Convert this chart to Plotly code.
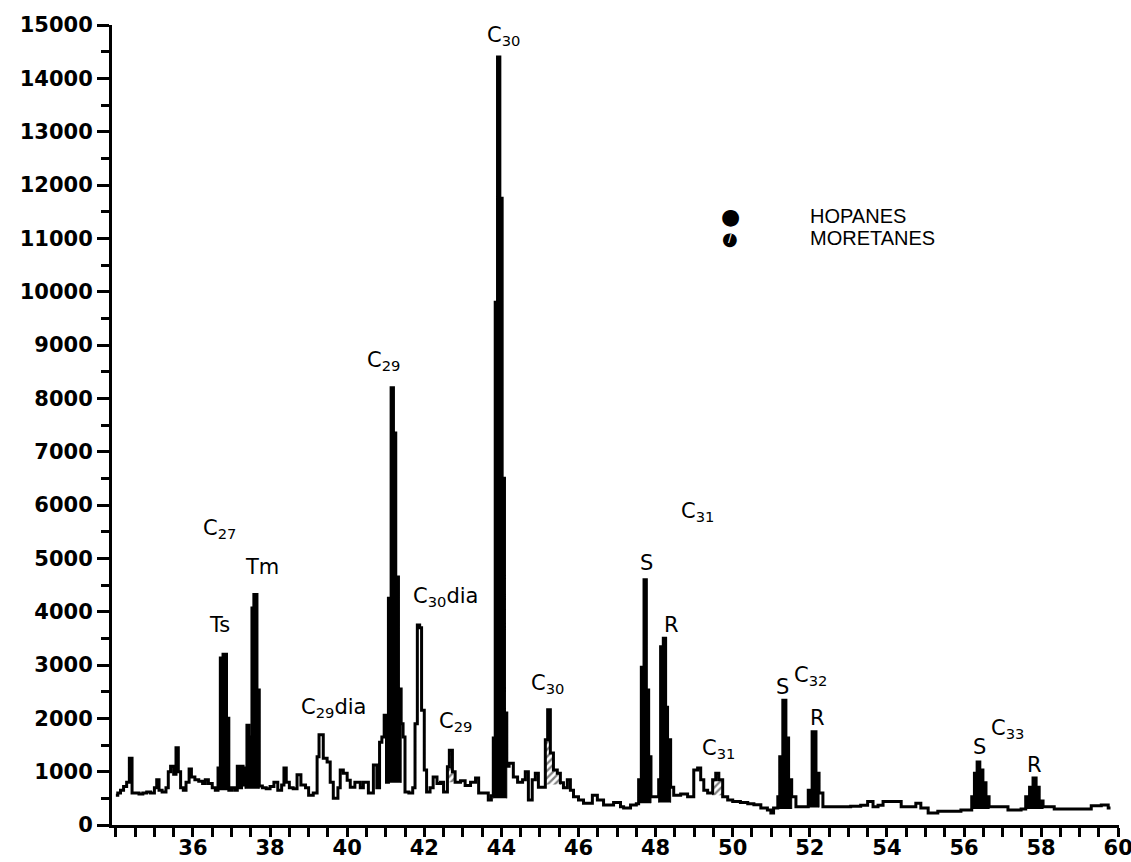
import plotly.graph_objects as go

# ---- chromatogram (retention time, min ; abundance) ----
times = [34.0, 34.05, 34.12, 34.2, 34.28, 34.35, 34.42, 34.5, 34.6, 34.7, 34.8, 34.9,
         35.0, 35.06, 35.12, 35.2, 35.3, 35.36, 35.42, 35.5, 35.56, 35.62, 35.68, 35.75,
         35.82, 35.9, 35.96, 36.05, 36.15, 36.25, 36.32, 36.4, 36.5, 36.58,
         36.65, 36.71, 36.78, 36.87, 36.93, 37.0, 37.08, 37.15, 37.2, 37.26, 37.3,
         37.35, 37.4, 37.45, 37.53, 37.58, 37.66, 37.72,
         37.8, 37.9, 38.0, 38.1, 38.2, 38.3, 38.36, 38.42, 38.5, 38.6, 38.7, 38.8,
         38.92, 39.0, 39.12, 39.22, 39.27, 39.38, 39.48, 39.56, 39.64, 39.76, 39.82,
         39.9, 40.0, 40.08, 40.2, 40.34, 40.42, 40.55, 40.68, 40.77,
         40.84, 40.9, 40.96, 41.02, 41.07, 41.14, 41.2, 41.26, 41.33, 41.4, 41.45,
         41.5, 41.6, 41.7, 41.76, 41.82, 41.88, 41.93, 42.0, 42.06,
         42.15, 42.23, 42.33, 42.42, 42.5, 42.6, 42.65, 42.73, 42.8, 42.94, 43.06,
         43.2, 43.33, 43.41, 43.53, 43.66, 43.74,
         43.79, 43.84, 43.9, 43.96, 44.02, 44.08, 44.14,
         44.2, 44.31, 44.42, 44.55, 44.62, 44.7, 44.8, 44.88, 44.96, 45.06,
         45.14, 45.2, 45.27, 45.35, 45.45, 45.53, 45.61, 45.71, 45.79, 45.87,
         46.0, 46.13, 46.36, 46.49, 46.65, 46.91, 47.09, 47.17, 47.35, 47.5,
         47.56, 47.63, 47.7, 47.76, 47.82, 47.88, 48.0,
         48.08, 48.13, 48.2, 48.26, 48.31, 48.39,
         48.47, 48.65, 48.83, 48.99, 49.09, 49.17, 49.25, 49.35, 49.48, 49.56,
         49.64, 49.74, 49.87, 50.0, 50.2, 50.39, 50.55, 50.73, 50.9, 50.99, 51.06,
         51.17, 51.22, 51.3, 51.38, 51.45, 51.53, 51.64, 51.9,
         51.96, 52.06, 52.16, 52.24, 52.34, 52.73, 53.06, 53.32, 53.5, 53.64,
         53.77, 53.9, 54.29, 54.37, 54.55, 54.75, 54.88, 55.07, 55.32, 55.58,
         55.92, 56.13, 56.2, 56.27, 56.34, 56.41, 56.49, 56.57, 56.65, 56.88,
         57.14, 57.48, 57.6, 57.7, 57.79, 57.87, 57.95, 58.05, 58.34, 59.22,
         59.3, 59.56, 59.74, 59.8]
abundance = [560, 600, 650, 720, 800, 1250, 600, 600, 580, 600, 620, 600,
             700, 850, 650, 620, 700, 1000, 1100, 950, 1450, 1000, 700, 650,
             800, 1050, 900, 850, 820, 780, 850, 780, 700, 650,
             1070, 3130, 3200, 2000, 650, 700, 650, 1100, 700, 1100, 750,
             1070, 1870, 1650, 4070, 4320, 2530, 730,
             700, 680, 720, 800, 650, 750, 1070, 800, 700, 680, 940, 750,
             700, 560, 600, 1280, 1690, 1250, 1180, 800, 500, 700, 1030,
             970, 840, 710, 800, 700, 800, 600, 1125, 700,
             1550, 1650, 2060, 800, 4250, 8200, 7350, 4650, 2550, 1900, 1650,
             620, 600, 700, 1900, 3750, 3700, 2150, 1030, 620,
             700, 900, 780, 800, 620, 1090, 1400, 1000, 800, 830, 740,
             800, 880, 600, 600, 470, 550,
             1630, 9800, 14400, 11750, 6500, 2100, 1100,
             1160, 900, 800, 850, 1000, 470, 850, 970, 710, 710,
             1600, 2160, 1350, 1030, 970, 790, 700, 850, 650, 530,
             470, 410, 560, 470, 375, 420, 340, 320, 375, 400,
             850, 2960, 4600, 2530, 1280, 530, 530,
             850, 3340, 3500, 2210, 1600, 710,
             560, 580, 530, 1030, 1070, 850, 650, 600, 850, 970,
             850, 530, 470, 440, 420, 400, 380, 320, 280, 225, 320,
             530, 1280, 2340, 1630, 850, 530, 340, 340,
             650, 1750, 970, 600, 340, 340, 350, 370, 440, 340,
             370, 440, 440, 340, 340, 410, 320, 225, 260, 260,
             280, 280, 530, 970, 1180, 1030, 790, 530, 340, 340,
             280, 300, 530, 710, 880, 710, 450, 340, 300, 300,
             360, 375, 320, 320]

# hopane peaks (solid) and moretane peaks (hatched): window start, end, base level
hopane_start = [36.65, 37.35, 41.07, 43.79, 47.56, 48.08, 51.17, 51.96, 56.2, 57.6]
hopane_end = [36.87, 37.66, 41.33, 44.08, 47.82, 48.31, 51.45, 52.16, 56.57, 57.95]
hopane_base = [650, 680, 790, 500, 410, 420, 300, 330, 300, 300]
moretane_start = [42.6, 45.14, 49.48]
moretane_end = [42.73, 45.45, 49.64]
moretane_base = [800, 760, 560]

x_ticks = [36, 38, 40, 42, 44, 46, 48, 50, 52, 54, 56, 58, 60]
y_ticks = [0, 1000, 2000, 3000, 4000, 5000, 6000, 7000, 8000, 9000, 10000,
           11000, 12000, 13000, 14000, 15000]


def step_polygon(a, b, base):
    idx = [i for i, t in enumerate(times) if a - 1e-9 <= t <= b + 1e-9]
    xs, ys = [times[idx[0]]], [base]
    for i in idx:
        nxt = times[i + 1] if i + 1 < len(times) else times[i]
        xs += [times[i], nxt]
        ys += [abundance[i], abundance[i]]
    xs.append(xs[-1])
    ys.append(base)
    return xs, ys


fig = go.Figure()

for a, b, base in zip(hopane_start, hopane_end, hopane_base):
    xs, ys = step_polygon(a, b, base)
    fig.add_trace(go.Scatter(x=xs, y=ys, fill="toself", fillcolor="black",
                             line=dict(color="black", width=1), mode="lines",
                             hoverinfo="skip", showlegend=False))

for a, b, base in zip(moretane_start, moretane_end, moretane_base):
    xs, ys = step_polygon(a, b, base)
    fig.add_trace(go.Scatter(x=xs, y=ys, fill="toself", fillcolor="white",
                             fillpattern=dict(shape="/", fgcolor="black", bgcolor="white",
                                              size=5, solidity=0.45),
                             line=dict(color="black", width=1), mode="lines",
                             hoverinfo="skip", showlegend=False))

fig.add_trace(go.Scatter(x=times, y=abundance, mode="lines", line_shape="hv",
                         line=dict(color="black", width=3), showlegend=False))

hand = dict(family="DejaVu Sans", size=21, color="black")
labels = [
    ("C<sub>27</sub>", 36.68, 5550), ("Tm", 37.8, 4830), ("Ts", 36.68, 3750),
    ("C<sub>29</sub>", 40.94, 8700), ("C<sub>29</sub>dia", 39.64, 2200),
    ("C<sub>30</sub>dia", 42.55, 4280), ("C<sub>29</sub>", 42.8, 1930),
    ("C<sub>30</sub>", 44.05, 14800), ("C<sub>30</sub>", 45.2, 2650),
    ("C<sub>31</sub>", 49.09, 5870), ("S", 47.77, 4920), ("R", 48.4, 3750),
    ("C<sub>31</sub>", 49.64, 1420),
    ("C<sub>32</sub>", 52.03, 2800), ("S", 51.3, 2590), ("R", 52.2, 2000),
    ("C<sub>33</sub>", 57.14, 1800), ("S", 56.39, 1460), ("R", 57.82, 1120),
]
annotations = [dict(x=x, y=y, xref="x", yref="y", text=t, showarrow=False,
                    font=hand) for t, x, y in labels]

# legend (pixel positions converted to paper coordinates below)
leg_font = dict(family="Liberation Sans", size=20, color="black")
legend_items = [
    dict(x=730, y=216, text="●", xanchor="center",
         font=dict(family="DejaVu Sans", size=22, color="black")),
    dict(x=730, y=238, text="●", xanchor="center",
         font=dict(family="DejaVu Sans", size=18, color="black")),
    dict(x=730, y=238, text="<b>/</b>", xanchor="center",
         font=dict(family="DejaVu Sans", size=10, color="white")),
    dict(x=808, y=216, text="HOPANES", xanchor="left", font=leg_font),
    dict(x=808, y=238, text="MORETANES", xanchor="left", font=leg_font),
]
W, H = 1131, 862
L, R, T, B = 112, 12, 25, 37
x_range = [33.9, 60.02]
for an in legend_items:
    an["xref"], an["yref"] = "paper", "paper"
    an["yanchor"] = "middle"
    an["showarrow"] = False
    an["x"] = (an["x"] - L) / (W - L - R)
    an["y"] = 1 - (an["y"] - T) / (H - T - B)
annotations += legend_items

tick_font = dict(family="DejaVu Sans", size=21, color="black", weight="bold")

fig.update_layout(
    width=W, height=H,
    margin=dict(l=L, r=R, t=T, b=B, autoexpand=False),
    paper_bgcolor="white", plot_bgcolor="white",
    annotations=annotations,
    xaxis=dict(range=x_range, tickvals=x_ticks, ticktext=[str(v) for v in x_ticks],
               ticks="outside", ticklen=9, tickwidth=3, tickcolor="black",
               showline=True, linecolor="black", linewidth=3, showgrid=False,
               zeroline=False, tickfont=tick_font, automargin=False,
               ticklabelstandoff=-7, ticklabeloverflow="allow",
               minor=dict(dtick=0.5, tick0=0, ticks="outside", ticklen=9,
                          tickwidth=3, tickcolor="black", showgrid=False)),
    yaxis=dict(range=[0, 15000], tickvals=y_ticks, ticktext=[str(v) for v in y_ticks],
               ticks="outside", ticklen=12, tickwidth=3, tickcolor="black",
               showline=True, linecolor="black", linewidth=3, showgrid=False,
               zeroline=False, tickfont=tick_font, automargin=False,
               ticklabeloverflow="allow",
               minor=dict(dtick=500, tick0=0, ticks="outside", ticklen=8,
                          tickwidth=3, tickcolor="black", showgrid=False)),
)

fig.write_html("out.html")
